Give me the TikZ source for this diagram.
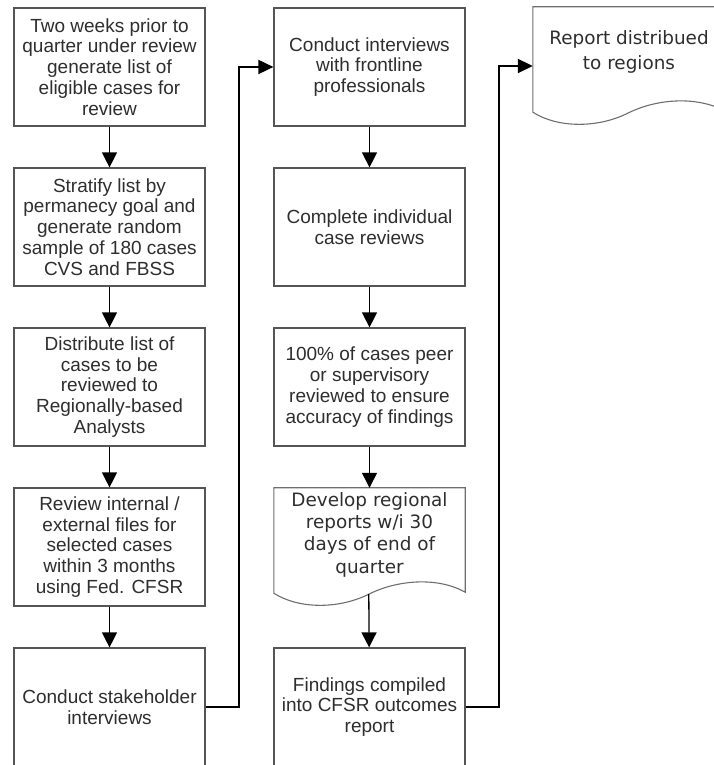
\documentclass[tikz,border=0pt]{standalone}
\usepackage{fontspec}
\setmainfont{Liberation Sans}
\newfontfamily\docfont{DejaVu Sans}
\usetikzlibrary{arrows.meta,calc}
\definecolor{txt}{HTML}{2E2E2E}
\definecolor{edge}{HTML}{555555}
\newcommand\docoutline[1]{%
  \draw[docline] (#1.north west) -- (#1.north east) -- ($(#1.south east)+(0,14)$)
    .. controls ($(#1.south west)+(165,29)$) and ($(#1.south west)+(125,27)$) .. ($(#1.south west)+(95,12)$)
    .. controls ($(#1.south west)+(65,-3)$) and ($(#1.south west)+(25,-3)$) .. ($(#1.south west)+(0,13)$) -- cycle;}
\begin{document}
\begin{tikzpicture}[x=1pt,y=1pt,
  stepbox/.style={draw=edge,line width=1.2pt,fill=white,minimum width=191pt,minimum height=118pt,
    align=center,text=txt,font=\fontsize{19}{20.8}\selectfont,inner sep=0pt},
  docshape/.style={minimum width=191pt,minimum height=118pt,inner sep=0pt},
  docline/.style={draw=edge!85,line width=1.1pt},
  doctext/.style={align=center,text=txt,font=\docfont\fontsize{18.4}{22.3}\selectfont,inner sep=0pt},
  flow/.style={draw=black,line width=1.3pt,-{Triangle[length=15pt,width=15pt]}},
  elbow/.style={draw=black,line width=1.8pt,-{Triangle[length=15pt,width=14pt]}}]
\useasboundingbox (0,0) rectangle (714,765);
% column 1
\node[stepbox] (b1) at (109.5,698) {Two weeks prior to\\quarter under review\\generate list of\\eligible cases for\\review};
\node[stepbox] (b2) at (109.5,538) {Stratify list by\\permanecy goal and\\generate random\\sample of 180 cases\\CVS and FBSS};
\node[stepbox] (b3) at (109.5,378) {Distribute list of\\cases to be\\reviewed to\\Regionally-based\\Analysts};
\node[stepbox] (b4) at (109.5,218) {Review internal /\\external files for\\selected cases\\within 3 months\\using Fed. CFSR};
\node[stepbox] (b5) at (109.5,58) {Conduct stakeholder\\interviews};
% column 2
\node[stepbox] (b6) at (369.5,698) {Conduct interviews\\with frontline\\professionals};
\node[stepbox] (b7) at (369.5,538) {Complete individual\\case reviews};
\node[stepbox] (b8) at (369.5,378) {100\% of cases peer\\or supervisory\\reviewed to ensure\\accuracy of findings};
\node[docshape] (d9) at (369.5,218) {};
\docoutline{d9}
\node[doctext] (t9) at ($(d9.center)+(0,12.5)$) {Develop regional\\reports w/i 30\\days of end of\\quarter};
\coordinate (w9) at ($(d9.south west)+(95,12)$);
\node[stepbox] (b10) at (369.5,58) {Findings compiled\\into CFSR outcomes\\report};
% column 3
\node[docshape,minimum width=192pt] (d11) at (629,699) {};
\docoutline{d11}
\node[doctext,font=\docfont\fontsize{18.4}{25}\selectfont] (t11) at ($(d11.center)+(0,14)$) {Report distribued\\to regions};
% connectors
\draw[flow] (b1) -- (b2);
\draw[flow] (b2) -- (b3);
\draw[flow] (b3) -- (b4);
\draw[flow] (b4) -- (b5);
\draw[flow] (b6) -- (b7);
\draw[flow] (b7) -- (b8);
\draw[flow] (b8) -- (d9);
\draw[flow] (w9) -- (b10);
\draw[elbow] (b5.east) -- ++(33,0) |- (b6.west);
\draw[elbow] (b10.east) -- ++(33,0) |- (d11.west);
\end{tikzpicture}
\end{document}
